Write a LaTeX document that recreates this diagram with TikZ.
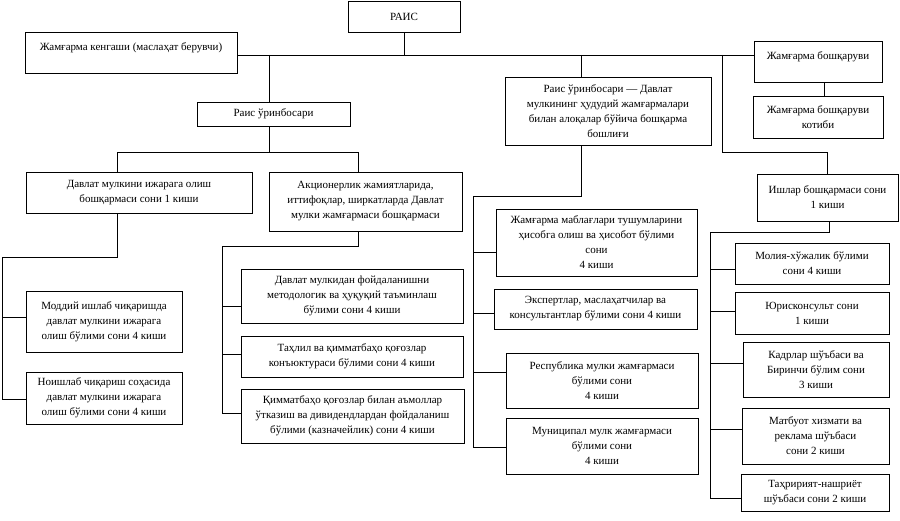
\documentclass[tikz,border=0pt]{standalone}
\usepackage{fontspec}
\setmainfont{Liberation Serif}
\tikzset{
  box/.style={draw, line width=0.8pt, inner sep=0pt, align=center, font=\fontsize{11}{15}\selectfont},
  topbox/.style={text height=19pt, text depth=22pt},
  conn/.style={line width=0.8pt},
}
\newcommand{\bx}[7][]{\node[box, minimum width={#5pt-#3pt}, minimum height={#6pt-#4pt}, #1] (#2) at ({(#3+#5)/2},{(#4+#6)/2}) {#7};}
\begin{document}
\begin{tikzpicture}[x=1pt,y=-1pt]
\useasboundingbox (0,0) rectangle (900,521);
% boxes
\bx{rais}{348}{1}{460}{32}{РАИС}
\bx[topbox]{kengash}{25}{32}{237}{73}{Жамғарма кенгаши (маслаҳат берувчи)}
\bx{rais1}{197}{102}{350}{126}{Раис ўринбосари}
\bx{rais2}{505}{77}{711}{145}{Раис ўринбосари — Давлат\\мулкининг ҳудудий жамғармалари\\билан алоқалар бўйича бошқарма\\бошлиғи}
\bx[topbox]{boshq}{754}{41}{882}{82}{Жамғарма бошқаруви}
\bx{kotib}{753}{96}{883}{138}{Жамғарма бошқаруви\\котиби}
\bx{ijara}{26}{172}{252}{213}{Давлат мулкини ижарага олиш\\бошқармаси сони 1 киши}
\bx{aksiya}{269}{172}{462}{231}{Акционерлик жамиятларида,\\иттифоқлар, ширкатларда Давлат\\мулки жамғармаси бошқармаси}
\bx{ishlar}{757}{174}{898}{221}{Ишлар бошқармаси сони\\1 киши}
\bx{moddiy}{26}{291}{182}{352}{Моддий ишлаб чиқаришда\\давлат мулкини ижарага\\олиш бўлими сони 4 киши}
\bx{noishlab}{26}{372}{182}{424}{Ноишлаб чиқариш соҳасида\\давлат мулкини ижарага\\олиш бўлими сони 4 киши}
\bx{a1}{241}{269}{463}{323}{Давлат мулкидан фойдаланишни\\методологик ва ҳуқуқий таъминлаш\\бўлими сони 4 киши}
\bx{a2}{241}{336}{463}{377}{Таҳлил ва қимматбаҳо қоғозлар\\конъюктураси бўлими сони 4 киши}
\bx{a3}{241}{389}{464}{443}{Қимматбаҳо қоғозлар билан аъмоллар\\ўтказиш ва дивидендлардан фойдаланиш\\бўлими (казначейлик) сони 4 киши}
\bx{m1}{496}{209}{697}{276}{Жамғарма маблағлари тушумларини\\ҳисобга олиш ва ҳисобот бўлими\\сони\\4 киши}
\bx{m2}{494}{289}{697}{329}{Экспертлар, маслаҳатчилар ва\\консультантлар бўлими сони 4 киши}
\bx{m3}{506}{353}{698}{408}{Республика мулки жамғармаси\\бўлими сони\\4 киши}
\bx{m4}{506}{418}{698}{474}{Муниципал мулк жамғармаси\\бўлими сони\\4 киши}
\bx{r1}{735}{243}{889}{284}{Молия-хўжалик бўлими\\сони 4 киши}
\bx{r2}{735}{292}{889}{334}{Юрисконсульт сони\\1 киши}
\bx{r3}{743}{342}{889}{397}{Кадрлар шўъбаси ва\\Биринчи бўлим сони\\3 киши}
\bx{r4}{742}{408}{889}{464}{Матбуот хизмати ва\\реклама шўъбаси\\сони 2 киши}
\bx{r5}{741}{474}{889}{511}{Таҳририят-нашриёт\\шўъбаси сони 2 киши}
% junction coordinates
\coordinate (busM) at (402,55);
\coordinate (j1) at (269,55);
\coordinate (j2) at (581,55);
\coordinate (j3) at (722,55);
\coordinate (j3b) at (722,152);
\coordinate (j4) at (824,0);
\coordinate (j5) at (269,152);
\coordinate (j5l) at (117,152);
\coordinate (j5r) at (358,152);
\coordinate (j6) at (117,257);
\coordinate (j6l) at (2,257);
\coordinate (b6a) at (2,317);
\coordinate (b6b) at (2,399);
\coordinate (j7) at (358,246);
\coordinate (j7l) at (222,246);
\coordinate (b7a) at (222,306);
\coordinate (b7b) at (222,354);
\coordinate (b7c) at (222,413);
\coordinate (j8) at (581,196);
\coordinate (j8l) at (473,196);
\coordinate (b8a) at (473,252);
\coordinate (b8b) at (473,313);
\coordinate (b8c) at (473,372);
\coordinate (b8d) at (473,447);
\coordinate (j9) at (829,232);
\coordinate (j9l) at (710,232);
\coordinate (b9a) at (710,269);
\coordinate (b9b) at (710,311);
\coordinate (b9c) at (710,363);
\coordinate (b9d) at (710,429);
\coordinate (b9e) at (710,498);
% connectors
\draw[conn] (kengash.east |- busM) -- (boshq.west |- busM);
\draw[conn] (rais.south) -- (rais.south |- busM);
\draw[conn] (j1) -- (j1 |- rais1.north);
\draw[conn] (j2) -- (j2 |- rais2.north);
\draw[conn] (j3) -- (j3b) -| (ishlar.north);
\draw[conn] (j4 |- boshq.south) -- (j4 |- kotib.north);
\draw[conn] (j5 |- rais1.south) -- (j5);
\draw[conn] (j5l |- ijara.north) -- (j5l) -- (j5r) -- (j5r |- aksiya.north);
\draw[conn] (j6 |- ijara.south) -- (j6) -- (j6l) -- (b6b) -- (b6b -| noishlab.west);
\draw[conn] (b6a) -- (b6a -| moddiy.west);
\draw[conn] (j7 |- aksiya.south) -- (j7) -- (j7l) -- (b7c) -- (b7c -| a3.west);
\draw[conn] (b7a) -- (b7a -| a1.west);
\draw[conn] (b7b) -- (b7b -| a2.west);
\draw[conn] (j8 |- rais2.south) -- (j8) -- (j8l) -- (b8d) -- (b8d -| m4.west);
\draw[conn] (b8a) -- (b8a -| m1.west);
\draw[conn] (b8b) -- (b8b -| m2.west);
\draw[conn] (b8c) -- (b8c -| m3.west);
\draw[conn] (j9 |- ishlar.south) -- (j9) -- (j9l) -- (b9e) -- (b9e -| r5.west);
\draw[conn] (b9a) -- (b9a -| r1.west);
\draw[conn] (b9b) -- (b9b -| r2.west);
\draw[conn] (b9c) -- (b9c -| r3.west);
\draw[conn] (b9d) -- (b9d -| r4.west);
\end{tikzpicture}
\end{document}
